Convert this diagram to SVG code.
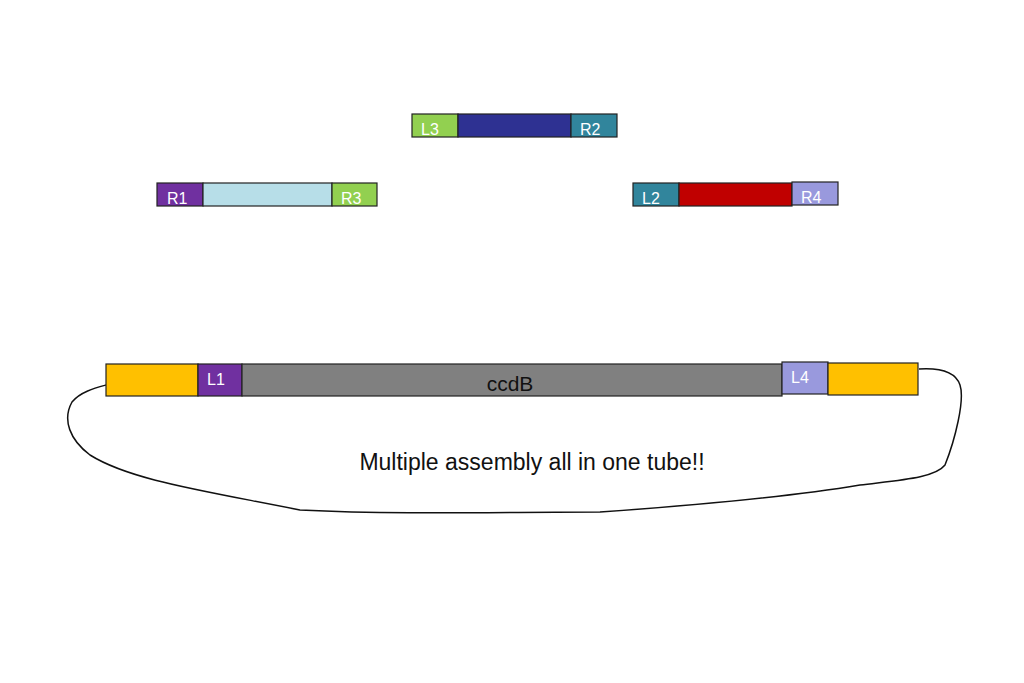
<svg xmlns="http://www.w3.org/2000/svg" width="1024" height="683" viewBox="0 0 1024 683">
<style>
rect{stroke:#222;stroke-width:1.2}
.w{fill:#fff;font-family:"Liberation Sans",Arial,sans-serif;font-size:16px}
.k{fill:#111;font-family:"Liberation Sans",Arial,sans-serif}
</style>
<rect width="1024" height="683" fill="#fff" style="stroke:none"/>
<g id="frag-top">
<rect x="412" y="114" width="46" height="23" fill="#92d050"/>
<rect x="458" y="114" width="113" height="23" fill="#2e3192"/>
<rect x="571" y="114" width="46" height="23" fill="#31859c"/>
<text class="w" x="421" y="135">L3</text><text class="w" x="580" y="135">R2</text>
</g>
<g id="frag-left">
<rect x="157" y="183" width="46" height="23" fill="#7030a0"/>
<rect x="203" y="183" width="129" height="23" fill="#b7dee8"/>
<rect x="332" y="183" width="45" height="23" fill="#92d050"/>
<text class="w" x="167" y="204">R1</text><text class="w" x="341" y="204">R3</text>
</g>
<g id="frag-right">
<rect x="633" y="183" width="46" height="23" fill="#31859c"/>
<rect x="679" y="183" width="113" height="23" fill="#c00000"/>
<rect x="792" y="182" width="46" height="23" fill="#9999dd"/>
<text class="w" x="642" y="204">L2</text><text class="w" x="801" y="203">R4</text>
</g>
<g id="connectors">
<path d="M106 385 C95 388 80 392 72 402 C62 420 70 440 90 455 C130 480 200 490 300 510 C400 515 500 512 600 512 C700 505 800 495 860 485 C900 480 935 478 945 465 C955 440 965 400 960 385 C955 370 935 368 919 369" fill="none" stroke="#111" stroke-width="1.5"/>
</g>
<g id="backbone">
<rect x="106" y="364" width="92" height="32" fill="#ffc000"/>
<rect x="198" y="364" width="44" height="32" fill="#7030a0"/>
<rect x="242" y="364" width="540" height="32" fill="#808080"/>
<rect x="782" y="362" width="46" height="32" fill="#9999dd"/>
<rect x="828" y="363" width="90" height="32" fill="#ffc000"/>
<text class="w" x="207" y="385">L1</text><text class="w" x="791" y="383">L4</text>
<text class="k" x="510" y="391" font-size="21" text-anchor="middle">ccdB</text>
</g>
<text class="k" x="532" y="470" font-size="23" text-anchor="middle">Multiple assembly all in one tube!!</text>
</svg>
